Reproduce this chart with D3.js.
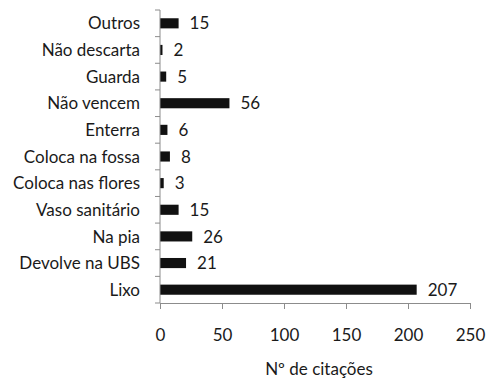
<!DOCTYPE html>
<html><head><meta charset="utf-8">
<script src="https://cdn.jsdelivr.net/npm/d3@7"></script>
<style>body{margin:0;background:#fff}svg{display:block}text{font-family:Lato,"Open Sans",sans-serif;fill:#1a1a1a}</style>
</head><body><svg id="c" width="487" height="380"></svg>
<script>
const categories = ["Lixo","Devolve na UBS","Na pia","Vaso sanitário","Coloca nas flores","Coloca na fossa","Enterra","Não vencem","Guarda","Não descarta","Outros"];
const values = [207,21,26,15,3,8,6,56,5,2,15];
const xTicks = [0,50,100,150,200,250];
const xTitle = "Nº de citações";

const svg = d3.select("#c");
const L = 160, R = 470, T = 10, B = 303;
const FS = 17;
const x = d3.scaleLinear().domain([0,250]).range([L,R]);
const y = d3.scaleBand().domain(categories).range([B,T]).paddingInner(0.62).paddingOuter(0.31);
const yEdge = d3.scaleLinear().domain([0,categories.length]).range([B,T]);
const axisColor = "#8c8c8c";

// bars
svg.selectAll("rect.bar").data(categories).join("rect")
  .attr("x", x(0)).attr("y", d=>y(d))
  .attr("width", (d,i)=>x(values[i])-x(0)).attr("height", y.bandwidth())
  .attr("fill","#111");

// x axis
const xa = svg.append("g").attr("transform",`translate(0,${B})`)
  .call(d3.axisBottom(x).tickValues(xTicks).tickSize(6).tickPadding(20));
xa.select(".domain").attr("stroke",axisColor);
xa.selectAll(".tick line").attr("stroke",axisColor);
xa.selectAll(".tick text").attr("font-size",FS).style("font-family","Lato,sans-serif").attr("fill","#1a1a1a");

// y axis line and ticks at band edges
svg.append("line").attr("x1",L).attr("x2",L).attr("y1",T).attr("y2",B).attr("stroke",axisColor);
svg.selectAll("line.yt").data(d3.range(categories.length+1)).join("line")
  .attr("x1",L-5).attr("x2",L).attr("y1",d=>yEdge(d)).attr("y2",d=>yEdge(d)).attr("stroke",axisColor);

// category labels
svg.selectAll("text.cat").data(categories).join("text")
  .attr("x",L-20).attr("y",d=>y(d)+y.bandwidth()/2).attr("dy","0.36em")
  .attr("text-anchor","end").attr("font-size",FS).text(d=>d);

// value labels
svg.selectAll("text.val").data(categories).join("text")
  .attr("x",(d,i)=>x(values[i])+11).attr("y",d=>y(d)+y.bandwidth()/2).attr("dy","0.36em")
  .attr("font-size",FS).text((d,i)=>values[i]);

// axis title
svg.append("text").attr("x",(L+R)/2+4).attr("y",375)
  .attr("text-anchor","middle").attr("font-size",FS).text(xTitle);
</script></body></html>
